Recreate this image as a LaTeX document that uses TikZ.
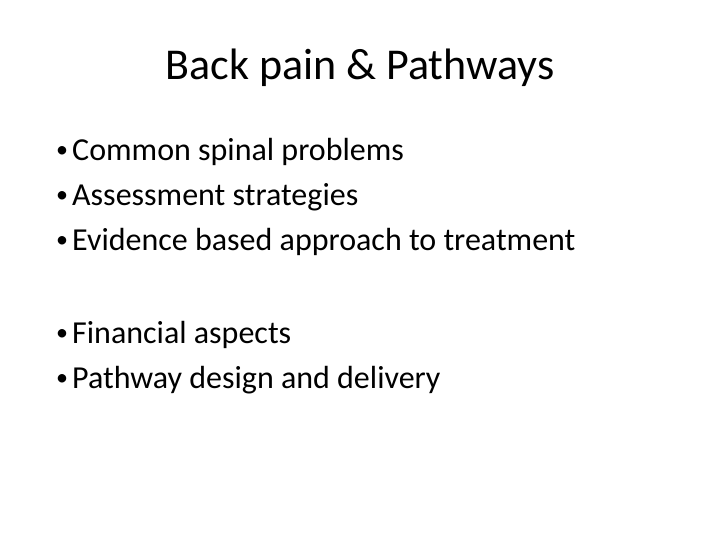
\documentclass[tikz,border=0pt]{standalone}
\usepackage{fontspec}
\setmainfont{Carlito}
\begin{document}
\begin{tikzpicture}[x=1pt,y=-1pt]
\tikzset{bul/.style={anchor=west,inner sep=0pt,font=\fontsize{24}{28}\selectfont},
 txt/.style={anchor=west,inner sep=0pt,font=\fontsize{32}{38}\selectfont}}
\useasboundingbox (0,0) rectangle (720,540);
\node[inner sep=0pt,font=\fontsize{44}{52}\selectfont] (title) at (360,68) {Back pain \& Pathways};
\foreach \y/\t/\n in {152/Common spinal problems/a,197/Assessment strategies/b,242/Evidence based approach to treatment/c,335/Financial aspects/d,380/Pathway design and delivery/e}{
 \node[bul] (b\n) at (56,\y) {•};
 \node[txt] (t\n) at (72,\y) {\t};
}
\end{tikzpicture}
\end{document}
